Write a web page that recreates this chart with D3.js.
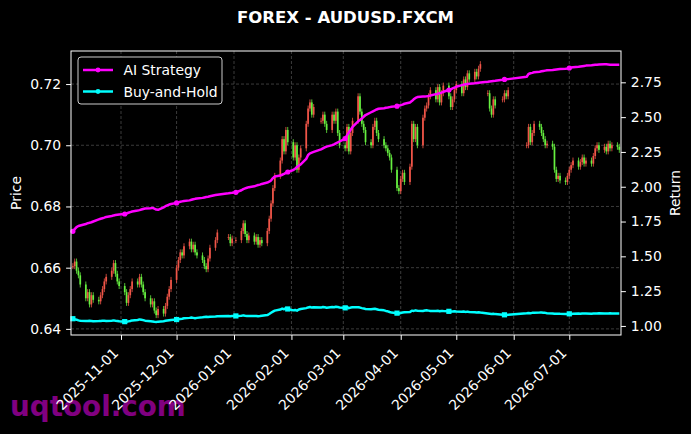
<!DOCTYPE html>
<html>
<head>
<meta charset="utf-8">
<script src="https://cdn.jsdelivr.net/npm/d3@7"></script>
<style>
  body { margin: 0; background: #000; }
  text { font-family: "DejaVu Sans", sans-serif; }
</style>
</head>
<body>
<div id="chart"></div>
<script>
// trading days Mon-Fri from 2025-10-06 to 2026-07-28, one row per week, null = no bar
const firstDay = "2025-10-06", lastDay = "2026-07-28";

const closes = [
  0.6605, 0.6620, 0.6590, 0.6575, 0.6545,
  0.6500, 0.6520, 0.6480, 0.6510, 0.6495,
  0.6490, 0.6510, 0.6530, 0.6555, 0.6570,
  0.6590, 0.6615, 0.6580, 0.6555, 0.6540,
  0.6520, 0.6485, 0.6510, 0.6530, 0.6555,
  0.6545, 0.6570, 0.6545, 0.6520, 0.6500,
  0.6480, 0.6490, 0.6460, 0.6445, 0.6465,
  0.6450, 0.6475, 0.6505, 0.6530, 0.6560,
  0.6600, 0.6625, 0.6650, 0.6640, 0.6670,
  0.6685, 0.6660, 0.6675, 0.6650, 0.6640,
  0.6625, 0.6605, 0.6595, 0.6630, 0.6665,
  0.6690, 0.6715, null, null, null,
  0.6700, 0.6680, 0.6695, null, 0.6690,
  0.6720, 0.6745, 0.6710, 0.6690, 0.6705,
  0.6685, 0.6700, 0.6675, 0.6690, 0.6680,
  0.6720, 0.6760, 0.6810, 0.6860, 0.6900,
  0.6950, 0.7020, 0.6980, 0.7050, 0.7010,
  0.6960, 0.7000, 0.6920, 0.6960, 0.6990,
  0.7070, 0.7120, 0.7140, 0.7100, 0.7125,
  null, 0.7080, 0.7100, 0.7070, 0.7050,
  0.7100, 0.7080, 0.7110, 0.7040, 0.7000,
  0.6990, 0.7060, 0.6980, 0.7040, 0.7080,
  0.7160, 0.7110, 0.7070, 0.7050, 0.7010,
  0.7000, 0.7060, 0.7080, 0.7040, 0.7020,
  0.7000, 0.6990, 0.6975, 0.6960, 0.6920,
  0.6860, 0.6850, 0.6890, 0.6910, 0.6880,
  0.6930, 0.7070, 0.7020, 0.7060, 0.7000,
  0.7090, 0.7120, 0.7130, 0.7160, 0.7180,
  0.7150, 0.7190, 0.7140, 0.7170, 0.7195,
  0.7160, 0.7125, 0.7150, 0.7180, 0.7200,
  0.7170, 0.7215, 0.7190, 0.7235, 0.7215,
  0.7240, 0.7225, 0.7250, 0.7265, null,
  0.7170, 0.7120, 0.7100, 0.7150, 0.7130,
  null, 0.7150, 0.7170, 0.7160, 0.7180,
  null, null, null, null, null,
  0.7000, 0.7060, 0.7010, 0.7040, 0.7070,
  0.7060, 0.7040, 0.7020, 0.7000, 0.7005,
  0.6995, 0.6920, 0.6890, 0.6900, 0.6885,
  0.6880, 0.6900, 0.6920, 0.6935, 0.6950,
  0.6930, 0.6945, 0.6960, 0.6940, 0.6950,
  0.6940, 0.6965, 0.6990, 0.7000, 0.6985,
  0.6995, 0.6980, 0.7005, 0.6990, 0.7000,
  0.6995, 0.6985
];

const aiReturn = [
  1.680, 1.695, 1.710, 1.718, 1.722,
  1.732, 1.738, 1.741, 1.745, 1.750,
  1.765, 1.770, 1.774, 1.778, 1.783,
  1.790, 1.794, 1.797, 1.799, 1.801,
  1.804, 1.808, 1.813, 1.818, 1.822,
  1.829, 1.832, 1.836, 1.840, 1.843,
  1.845, 1.848, 1.842, 1.836, 1.834,
  1.852, 1.860, 1.866, 1.872, 1.876,
  1.884, 1.888, 1.892, 1.895, 1.898,
  1.902, 1.906, 1.910, 1.913, 1.915,
  1.920, 1.923, 1.926, 1.928, 1.931,
  1.940, 1.943, null, null, null,
  1.953, 1.955, 1.956, null, 1.960,
  1.975, 1.983, 1.988, 1.993, 1.997,
  2.003, 2.008, 2.012, 2.015, 2.020,
  2.030, 2.036, 2.045, 2.062, 2.073,
  2.080, 2.086, 2.092, 2.100, 2.106,
  2.120, 2.130, 2.142, 2.152, 2.160,
  2.200, 2.228, 2.240, 2.245, 2.250,
  null, 2.268, 2.275, 2.282, 2.288,
  2.299, 2.305, 2.312, 2.318, 2.325,
  2.345, 2.370, 2.390, 2.410, 2.430,
  2.470, 2.480, 2.490, 2.503, 2.515,
  2.535, 2.542, 2.548, 2.555, 2.560,
  2.564, 2.567, 2.569, 2.572, 2.575,
  2.579, 2.583, 2.586, 2.590, 2.596,
  2.605, 2.615, 2.628, 2.638, 2.644,
  2.648, 2.649, 2.650, 2.652, 2.655,
  2.665, 2.668, 2.672, 2.676, 2.682,
  2.695, 2.700, 2.706, 2.712, 2.718,
  2.730, 2.733, 2.736, 2.738, 2.740,
  2.743, 2.745, 2.747, 2.749, null,
  2.754, 2.756, 2.758, 2.760, 2.761,
  null, 2.768, 2.771, 2.772, 2.773,
  null, null, null, null, null,
  2.790, 2.810, 2.815, 2.818, 2.822,
  2.826, 2.829, 2.832, 2.834, 2.836,
  2.838, 2.840, 2.842, 2.844, 2.846,
  2.848, 2.850, 2.853, 2.856, 2.858,
  2.862, 2.864, 2.866, 2.868, 2.870,
  2.872, 2.874, 2.876, 2.877, 2.878,
  2.879, 2.879, 2.878, 2.877, 2.877,
  2.876, 2.876
];

const bhReturn = [
  1.052, 1.048, 1.045, 1.040, 1.038,
  1.036, 1.035, 1.037, 1.036, 1.034,
  1.035, 1.036, 1.038, 1.037, 1.036,
  1.038, 1.040, 1.037, 1.035, 1.033,
  1.031, 1.030, 1.033, 1.036, 1.040,
  1.043, 1.047, 1.045, 1.042, 1.038,
  1.034, 1.032, 1.030, 1.029, 1.031,
  1.034, 1.037, 1.039, 1.041, 1.043,
  1.046, 1.048, 1.050, 1.052, 1.055,
  1.058, 1.060, 1.058, 1.056, 1.058,
  1.062, 1.064, 1.066, 1.064, 1.066,
  1.068, 1.070, null, null, null,
  1.071, 1.070, 1.072, null, 1.072,
  1.074, 1.076, 1.073, 1.071, 1.072,
  1.071, 1.072, 1.070, 1.071, 1.073,
  1.078, 1.086, 1.095, 1.103, 1.110,
  1.118, 1.125, 1.120, 1.128, 1.122,
  1.112, 1.115, 1.110, 1.118, 1.122,
  1.128, 1.133, 1.136, 1.132, 1.135,
  null, 1.132, 1.136, 1.134, 1.131,
  1.136, 1.134, 1.138, 1.136, 1.133,
  1.130, 1.136, 1.128, 1.132, 1.135,
  1.134, 1.132, 1.128, 1.126, 1.122,
  1.120, 1.122, 1.124, 1.120, 1.116,
  1.112, 1.108, 1.105, 1.100, 1.096,
  1.092, 1.090, 1.093, 1.096, 1.098,
  1.100, 1.110, 1.108, 1.112, 1.109,
  1.108, 1.111, 1.112, 1.110, 1.108,
  1.107, 1.109, 1.106, 1.108, 1.107,
  1.105, 1.103, 1.104, 1.106, 1.104,
  1.102, 1.104, 1.101, 1.103, 1.100,
  1.099, 1.097, 1.098, 1.096, null,
  1.090, 1.088, 1.086, 1.087, 1.085,
  null, 1.081, 1.080, 1.079, 1.080,
  null, null, null, null, null,
  1.091, 1.093, 1.092, 1.094, 1.095,
  1.096, 1.097, 1.095, 1.094, 1.092,
  1.090, 1.088, 1.087, 1.088, 1.087,
  1.086, 1.085, 1.087, 1.086, 1.088,
  1.089, 1.088, 1.090, 1.089, 1.090,
  1.088, 1.089, 1.090, 1.089, 1.091,
  1.090, 1.089, 1.090, 1.091, 1.090,
  1.090, 1.090
];

const priceTicks = [0.64, 0.66, 0.68, 0.70, 0.72];
const returnTicks = [1.00, 1.25, 1.50, 1.75, 2.00, 2.25, 2.50, 2.75];
const monthTicks = ["2025-11-01", "2025-12-01", "2026-01-01", "2026-02-01", "2026-03-01",
                    "2026-04-01", "2026-05-01", "2026-06-01", "2026-07-01"];

const margin = { top: 51, right: 70, bottom: 99, left: 71 },
    width = 691 - margin.left - margin.right,
    height = 434 - margin.top - margin.bottom;

const parse = d3.utcParse("%Y-%m-%d");
const days = d3.utcDays(parse(firstDay), d3.utcDay.offset(parse(lastDay), 1))
    .filter(d => d.getUTCDay() !== 0 && d.getUTCDay() !== 6);

const bars = [];
days.forEach((d, i) => {
    if (closes[i] == null) return;
    const prev = i > 0 ? closes[i - 1] : null;
    bars.push({ date: d, open: prev == null ? closes[i] : prev, close: closes[i], ai: aiReturn[i], bh: bhReturn[i] });
});

const svg = d3.select("#chart")
    .append("svg")
    .attr("width", 691)
    .attr("height", 434)
    .style("background", "#000");

// watermark sits under the axis labels
svg.append("text")
    .attr("x", 10).attr("y", 416)
    .attr("font-size", 27.8).attr("font-weight", "bold")
    .attr("fill", "#800080")
    .text("uqtool.com");

svg.append("text")
    .attr("x", 691 / 2).attr("y", 23)
    .attr("text-anchor", "middle")
    .attr("font-size", 16.5).attr("font-weight", "bold")
    .attr("fill", "#fff")
    .text("FOREX - AUDUSD.FXCM");

const g = svg.append("g").attr("transform", `translate(${margin.left},${margin.top})`);

const x = d3.scaleUtc()
    .domain([new Date(Date.UTC(2025, 9, 5)), new Date(Date.UTC(2026, 6, 28, 22))])
    .range([0, width]);
const y = d3.scaleLinear().domain([0.638, 0.7308]).range([height, 0]);
const y2 = d3.scaleLinear().domain([0.935, 2.975]).range([height, 0]);

// grid
const grid = g.append("g").attr("stroke", "#4a4a4a").attr("stroke-width", 0.8).attr("stroke-dasharray", "3,2");
grid.selectAll("line.v").data(monthTicks).join("line")
    .attr("x1", d => x(parse(d))).attr("x2", d => x(parse(d)))
    .attr("y1", 0).attr("y2", height);
grid.selectAll("line.h").data(priceTicks).join("line")
    .attr("x1", 0).attr("x2", width)
    .attr("y1", d => y(d)).attr("y2", d => y(d));

// candles: red = up, green = down
const upColor = "#f05548", downColor = "#66f040";
const candles = g.append("g");
candles.selectAll("line").data(bars).join("line")
    .attr("x1", d => x(d.date)).attr("x2", d => x(d.date))
    .attr("y1", d => y(Math.max(d.open, d.close)) - 3)
    .attr("y2", d => y(Math.min(d.open, d.close)) + 3)
    .attr("stroke", d => d.close >= d.open ? upColor : downColor)
    .attr("stroke-width", 0.8);
candles.selectAll("rect").data(bars).join("rect")
    .attr("x", d => x(d.date) - 0.85)
    .attr("width", 1.7)
    .attr("y", d => y(Math.max(d.open, d.close)))
    .attr("height", d => Math.max(0.8, Math.abs(y(d.open) - y(d.close))))
    .attr("fill", d => d.close >= d.open ? upColor : downColor);

// return lines
const series = [
    { key: "ai", name: "AI Strategy", color: "#ff00ff", marker: "circle" },
    { key: "bh", name: "Buy-and-Hold", color: "#00ffff", marker: "square" }
];
series.forEach(s => {
    const line = d3.line().x(d => x(d.date)).y(d => y2(d[s.key]));
    g.append("path").datum(bars)
        .attr("d", line)
        .attr("fill", "none")
        .attr("stroke", s.color)
        .attr("stroke-width", 2.5)
        .attr("stroke-linejoin", "round");
    const marks = bars.filter((d, i) => i % 20 === 0);
    if (s.marker === "circle") {
        g.selectAll(null).data(marks).join("circle")
            .attr("cx", d => x(d.date)).attr("cy", d => y2(d[s.key]))
            .attr("r", 2.6).attr("fill", s.color);
    } else {
        g.selectAll(null).data(marks).join("rect")
            .attr("x", d => x(d.date) - 2.6).attr("y", d => y2(d[s.key]) - 2.6)
            .attr("width", 5.2).attr("height", 5.2).attr("fill", s.color);
    }
});

// axes
const fmt2 = d3.format(".2f");
const styleAxis = sel => {
    sel.select(".domain").remove();
    sel.selectAll(".tick line").attr("stroke", "#fff");
    sel.selectAll(".tick text").attr("fill", "#fff").attr("font-size", 13.9)
        .attr("font-family", "DejaVu Sans, sans-serif");
};

g.append("g")
    .call(d3.axisLeft(y).tickValues(priceTicks).tickFormat(fmt2).tickSize(4.9).tickPadding(4.9))
    .call(styleAxis);

g.append("g")
    .attr("transform", `translate(${width},0)`)
    .call(d3.axisRight(y2).tickValues(returnTicks).tickFormat(fmt2).tickSize(4.9).tickPadding(4.9))
    .call(styleAxis);

const xAxis = g.append("g")
    .attr("transform", `translate(0,${height})`)
    .call(d3.axisBottom(x).tickValues(monthTicks.map(parse)).tickFormat(d3.utcFormat("%Y-%m-%d")).tickSize(4.9))
    .call(styleAxis);
xAxis.selectAll(".tick text")
    .attr("text-anchor", "end")
    .attr("y", 0).attr("dy", 0)
    .attr("transform", "translate(-2.3,19) rotate(-45)");

// frame
g.append("rect")
    .attr("width", width).attr("height", height)
    .attr("fill", "none").attr("stroke", "#fff").attr("stroke-width", 1);

svg.append("text")
    .attr("transform", `translate(21,${margin.top + height / 2}) rotate(-90)`)
    .attr("text-anchor", "middle")
    .attr("font-size", 13.9).attr("fill", "#fff")
    .text("Price");
svg.append("text")
    .attr("transform", `translate(680,${margin.top + height / 2}) rotate(-90)`)
    .attr("text-anchor", "middle")
    .attr("font-size", 13.9).attr("fill", "#fff")
    .text("Return");

// legend
const legend = svg.append("g").attr("transform", "translate(78,57)");
legend.append("rect")
    .attr("width", 144).attr("height", 47).attr("rx", 3)
    .attr("fill", "#000").attr("stroke", "#cccccc").attr("stroke-width", 1);
series.forEach((s, i) => {
    const ly = 13 + i * 21.5;
    legend.append("line")
        .attr("x1", 5).attr("x2", 35).attr("y1", ly).attr("y2", ly)
        .attr("stroke", s.color).attr("stroke-width", 2.5);
    legend.append("circle").attr("cx", 20).attr("cy", ly).attr("r", 2.4).attr("fill", s.color);
    legend.append("text")
        .attr("x", 45.5).attr("y", ly + 5)
        .attr("font-size", 13.9).attr("fill", "#fff")
        .text(s.name);
});
</script>
</body>
</html>
